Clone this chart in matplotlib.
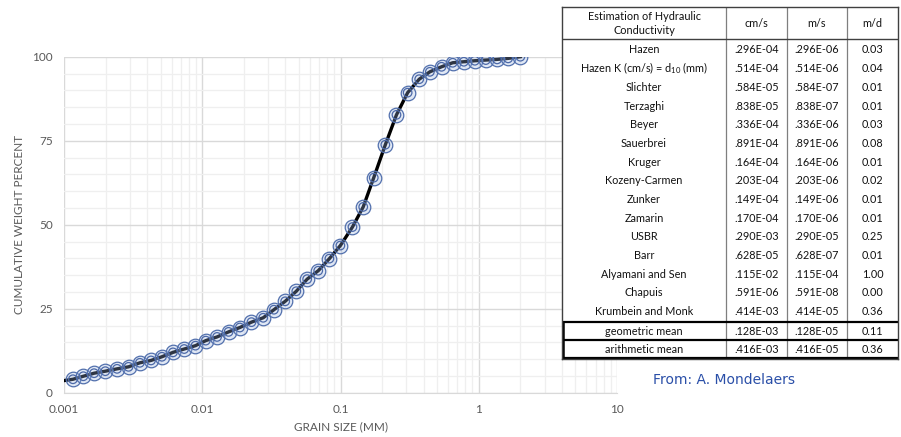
"""
Grain size distribution curve with hydraulic conductivity estimates table.
"""
import matplotlib
matplotlib.use('Agg')
import matplotlib.pyplot as plt
from matplotlib.ticker import FixedLocator, NullFormatter

# ---------- Data ----------
grain_mm = [0.00116, 0.00138, 0.00165, 0.00199, 0.00242, 0.00293, 0.00354,
            0.00426, 0.00511, 0.00614, 0.0074, 0.00893, 0.0106, 0.0128,
            0.0155, 0.0187, 0.0227, 0.0276, 0.033, 0.0398, 0.0479, 0.0574,
            0.069, 0.0831, 0.0998, 0.122, 0.146, 0.174, 0.211, 0.254, 0.306,
            0.371, 0.443, 0.538, 0.648, 0.78, 0.937, 1.125, 1.358, 1.632, 2.0]
cum_pct = [4.0, 4.9, 5.8, 6.4, 7.1, 7.7, 8.9, 9.6, 10.7, 12.0, 13.0, 14.0,
           15.5, 16.6, 18.1, 19.4, 21.0, 22.3, 24.7, 27.2, 30.2, 33.8, 36.3,
           39.9, 43.8, 49.3, 55.3, 64.0, 73.8, 82.7, 89.3, 93.3, 95.5, 97.0,
           98.2, 98.5, 98.8, 99.0, 99.2, 99.5, 100.0]
# fitted curve starts at the axis edge
curve_x = [0.001] + grain_mm
curve_y = [3.6] + cum_pct

x_ticks = [0.001, 0.01, 0.1, 1, 10]
x_tick_labels = ['0.001', '0.01', '0.1', '1', '10']
y_ticks = [0, 25, 50, 75, 100]

header = ['Estimation of Hydraulic\nConductivity', 'cm/s', 'm/s', 'm/d']
methods = ['Hazen', 'Hazen K (cm/s) = d$_{10}$ (mm)', 'Slichter', 'Terzaghi',
           'Beyer', 'Sauerbrei', 'Kruger', 'Kozeny-Carmen', 'Zunker',
           'Zamarin', 'USBR', 'Barr', 'Alyamani and Sen', 'Chapuis',
           'Krumbein and Monk']
k_cms = ['.296E-04', '.514E-04', '.584E-05', '.838E-05', '.336E-04',
         '.891E-04', '.164E-04', '.203E-04', '.149E-04', '.170E-04',
         '.290E-03', '.628E-05', '.115E-02', '.591E-06', '.414E-03']
k_ms = ['.296E-06', '.514E-06', '.584E-07', '.838E-07', '.336E-06',
        '.891E-06', '.164E-06', '.203E-06', '.149E-06', '.170E-06',
        '.290E-05', '.628E-07', '.115E-04', '.591E-08', '.414E-05']
k_md = ['0.03', '0.04', '0.01', '0.01', '0.03', '0.08', '0.01', '0.02',
        '0.01', '0.01', '0.25', '0.01', '1.00', '0.00', '0.36']
means = ['geometric mean', 'arithmetic mean']
mean_cms = ['.128E-03', '.416E-03']
mean_ms = ['.128E-05', '.416E-05']
mean_md = ['0.11', '0.36']

# ---------- Figure ----------
W, H = 901, 437
fig = plt.figure(figsize=(W / 100, H / 100), dpi=100)
fig.patch.set_facecolor('white')
FONT = 'Lato'
GRAY = '#595959'
plt.rcParams['mathtext.fontset'] = 'custom'
plt.rcParams['mathtext.rm'] = FONT

ax = fig.add_axes([64 / W, 1 - 392.7 / H, (617 - 64) / W, (392.7 - 56.7) / H])
ax.set_xscale('log')
ax.set_xlim(0.001, 10)
ax.set_ylim(0, 100)

# grid
ax.xaxis.set_major_locator(FixedLocator(x_ticks))
minor_x = [m * 10 ** e for e in range(-3, 1) for m in range(2, 10)]
ax.xaxis.set_minor_locator(FixedLocator(minor_x))
ax.xaxis.set_minor_formatter(NullFormatter())
ax.set_yticks(y_ticks)
ax.set_yticks(range(0, 101, 5), minor=True)
ax.grid(which='major', color='#d9d9d9', linewidth=1.0, zorder=0)
ax.grid(which='minor', color='#efefef', linewidth=0.9, zorder=0)
ax.set_axisbelow(True)
ax.set_xticklabels(x_tick_labels)
ax.tick_params(which='both', length=0, labelsize=8.5, labelcolor=GRAY, pad=8)
for lab in ax.get_xticklabels() + ax.get_yticklabels():
    lab.set_family(FONT)
for s in ['top', 'right', 'left']:
    ax.spines[s].set_visible(False)
ax.spines['bottom'].set_color('#d9d9d9')

ax.set_xlabel('GRAIN SIZE (MM)', fontsize=8.5, color=GRAY, family=FONT, labelpad=5)
ax.set_ylabel('CUMULATIVE WEIGHT PERCENT', fontsize=8.5, color=GRAY, family=FONT,
              labelpad=5)

# curve and points
ax.plot(curve_x, curve_y, color='black', linewidth=2.4, zorder=3)
ax.scatter(grain_mm, cum_pct, s=110, facecolor=(0.6, 0.7, 0.88, 0.3),
           edgecolor='#5270ad', linewidth=0.9, zorder=4)
ax.scatter(grain_mm, cum_pct, s=38, facecolor='none',
           edgecolor='#4c69a8', linewidth=0.9, zorder=5)

# ---------- Table ----------
TL, TR, TT, TB = 562, 898, 7, 359
tax = fig.add_axes([TL / W, 1 - TB / H, (TR - TL) / W, (TB - TT) / H], zorder=10)
tax.set_xlim(TL, TR)
tax.set_ylim(TB, TT)
tax.set_facecolor('white')
tax.set_xticks([])
tax.set_yticks([])
for s in tax.spines.values():
    s.set_color('#404040')
    s.set_linewidth(1.0)

col_edges = [TL, 726, 787, 847, TR]
col_mid = [(col_edges[i] + col_edges[i + 1]) / 2 for i in range(4)]
header_bottom = 39
row_h = 18.69
first_row = 50
mean_top = 321.7
mean_h = 18.7
TS = 7.8
TC = '#111111'

for xe in col_edges[1:-1]:
    tax.plot([xe, xe], [TT, TB], color='#7f7f7f', linewidth=0.9)
tax.plot([TL, TR], [header_bottom, header_bottom], color='#404040', linewidth=1.0)

for j, h in enumerate(header):
    tax.text(col_mid[j], (TT + header_bottom) / 2 + 0.5, h, ha='center', va='center',
             fontsize=TS, family=FONT, color=TC, linespacing=1.3)

for i in range(len(methods)):
    y = first_row + i * row_h
    vals = [methods[i], k_cms[i], k_ms[i], k_md[i]]
    for j, v in enumerate(vals):
        tax.text(col_mid[j], y, v, ha='center', va='center', fontsize=TS,
                 family=FONT, color=TC)

for i in range(len(means)):
    y0 = mean_top + i * mean_h
    tax.plot([TL, TR], [y0, y0], color='black', linewidth=1.6)
    vals = [means[i], mean_cms[i], mean_ms[i], mean_md[i]]
    for j, v in enumerate(vals):
        tax.text(col_mid[j], y0 + mean_h / 2, v, ha='center', va='center',
                 fontsize=TS, family=FONT, color=TC)
tax.plot([TL, TR], [TB - 0.5, TB - 0.5], color='black', linewidth=1.6)
tax.plot([TL + 0.5, TL + 0.5], [mean_top, TB], color='black', linewidth=1.8)

fig.text(653 / W, 1 - 380 / H, 'From: A. Mondelaers', fontsize=10, color='#2a4fa8',
         family='DejaVu Sans', va='center', ha='left')

fig.savefig('out.png', dpi=100, facecolor='white')
plt.close(fig)
